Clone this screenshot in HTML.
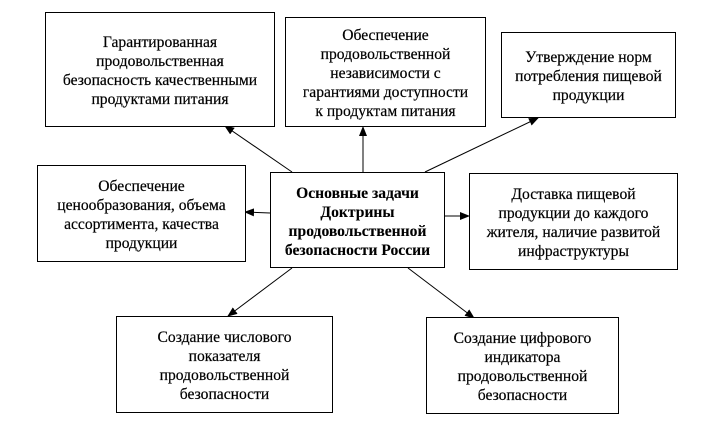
<!DOCTYPE html>
<html>
<head>
<meta charset="utf-8">
<style>
html,body{margin:0;padding:0;background:#fff;}
body{width:702px;height:436px;position:relative;overflow:hidden;font-family:"Liberation Serif","Times New Roman",Times,"DejaVu Serif",serif;color:#000;}
.b{position:absolute;box-sizing:border-box;border:1.5px solid #000;display:flex;align-items:center;justify-content:center;text-align:center;font-size:15.6px;line-height:19px;padding-top:3px;background:#fff;font-family:"Liberation Serif","Times New Roman",Times,"DejaVu Serif",serif;-webkit-text-stroke:0.2px #000;}
.c{font-weight:bold;-webkit-text-stroke:0.1px #000;}
svg{position:absolute;left:0;top:0;}
</style>
</head>
<body>
<svg width="702" height="436" viewBox="0 0 702 436">
<defs>
<marker id="a" markerWidth="10" markerHeight="8" refX="9" refY="4" orient="auto" markerUnits="userSpaceOnUse">
<path d="M0,0 L10,4 L0,8 z" fill="#000"/>
</marker>
</defs>
<g stroke="#000" stroke-width="1" fill="none">
<line x1="292" y1="172" x2="225" y2="126" marker-end="url(#a)"/>
<line x1="363" y1="172" x2="363" y2="127" marker-end="url(#a)"/>
<line x1="425" y1="172" x2="538" y2="118" marker-end="url(#a)"/>
<line x1="270" y1="213" x2="245" y2="212" marker-end="url(#a)"/>
<line x1="444" y1="216" x2="469" y2="216" marker-end="url(#a)"/>
<line x1="292" y1="268" x2="228" y2="316" marker-end="url(#a)"/>
<line x1="408" y1="268" x2="474" y2="318" marker-end="url(#a)"/>
</g>
</svg>
<div class="b" style="left:45px;top:12px;width:230px;height:115px;">Гарантированная<br>продовольственная<br>безопасность качественными<br>продуктами питания</div>
<div class="b" style="left:285px;top:17px;width:201px;height:110px;">Обеспечение<br>продовольственной<br>независимости с<br>гарантиями доступности<br>к продуктам питания</div>
<div class="b" style="left:501px;top:32px;width:175px;height:86px;">Утверждение норм<br>потребления пищевой<br>продукции</div>
<div class="b" style="left:37px;top:165px;width:209px;height:97px;">Обеспечение<br>ценообразования, объема<br>ассортимента, качества<br>продукции</div>
<div class="b c" style="left:270px;top:172px;width:175px;height:96px;">Основные задачи<br>Доктрины<br>продовольственной<br>безопасности России</div>
<div class="b" style="left:469px;top:173px;width:209px;height:97px;">Доставка пищевой<br>продукции до каждого<br>жителя, наличие развитой<br>инфраструктуры</div>
<div class="b" style="left:116px;top:316px;width:217px;height:97px;">Создание числового<br>показателя<br>продовольственной<br>безопасности</div>
<div class="b" style="left:426px;top:317px;width:193px;height:97px;">Создание цифрового<br>индикатора<br>продовольственной<br>безопасности</div>
</body>
</html>
